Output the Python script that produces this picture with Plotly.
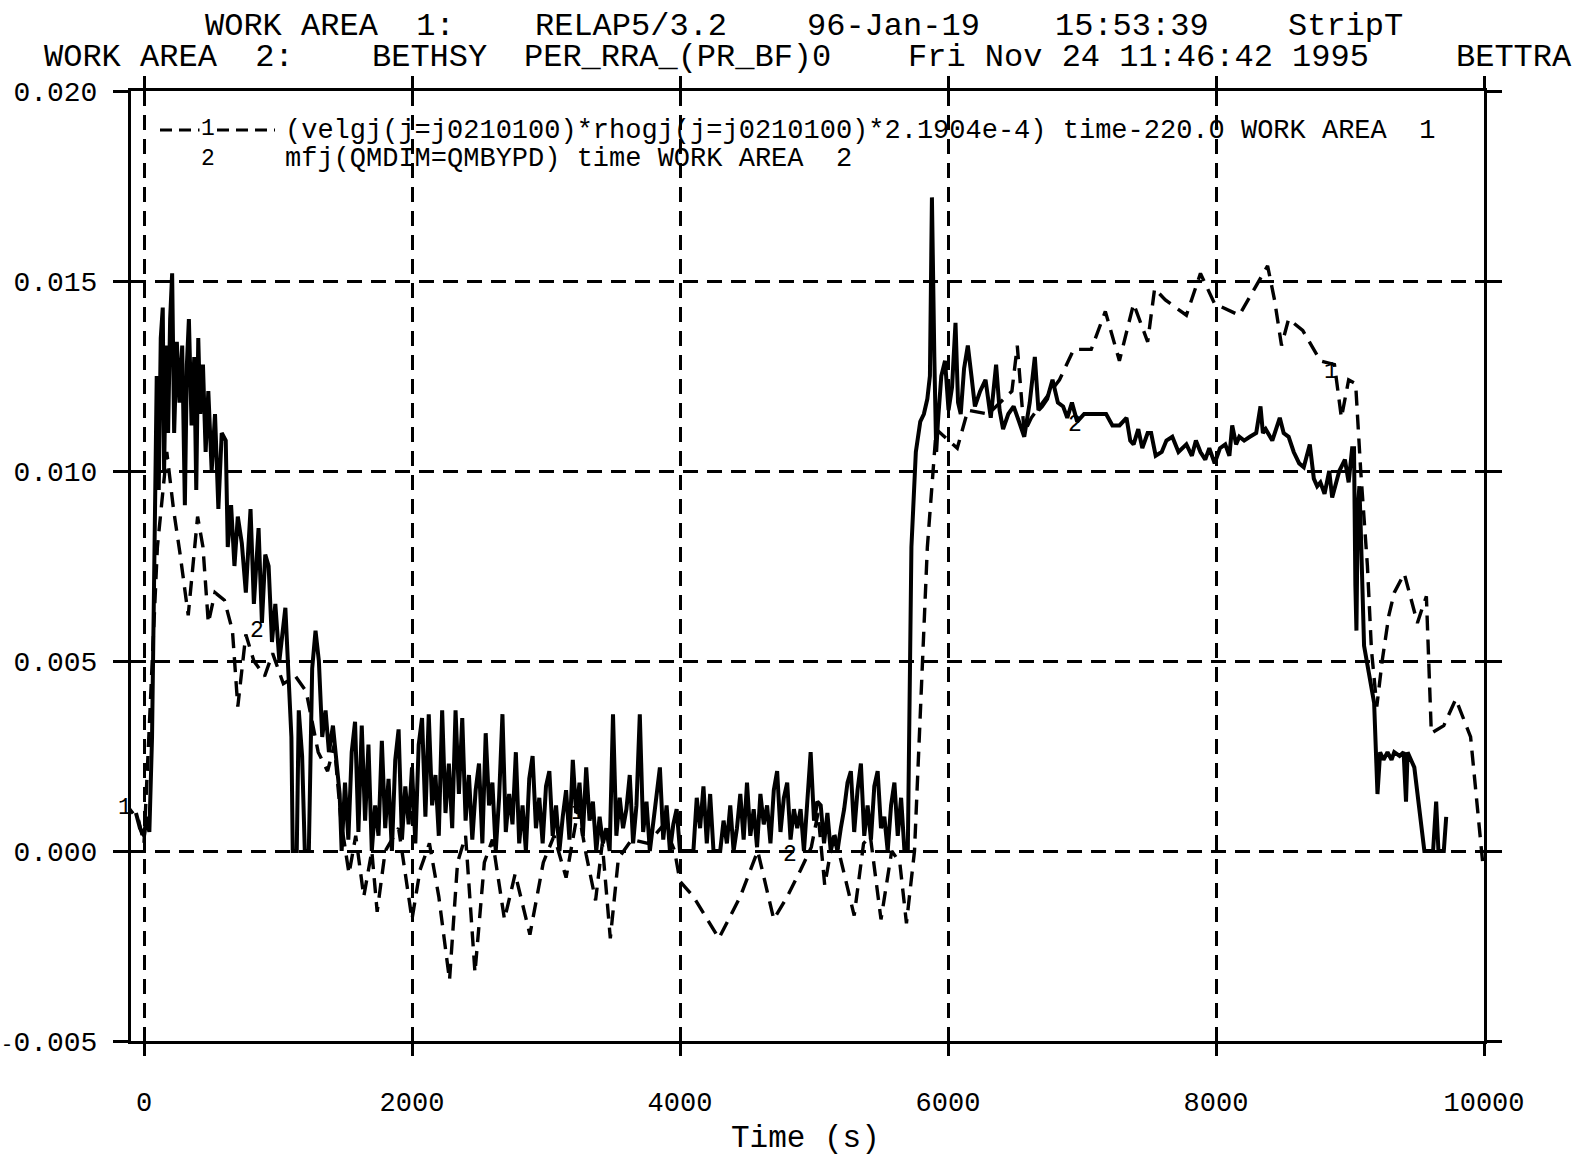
import plotly.graph_objects as go

# ---------------- data ----------------
# Curve 1 (dashed): (velgj*rhogj*2.1904e-4) vs time-220.0, WORK AREA 1
t1 = [-150, -40, 0, 40, 100, 170, 220, 270, 330, 400,
      440, 480, 530, 600, 660, 700, 760, 820, 900, 960,
      1040, 1130, 1210, 1300, 1370, 1420, 1470, 1530, 1580, 1640,
      1700, 1740, 1800, 1900, 2000, 2060, 2130, 2200, 2280, 2340,
      2400, 2470, 2540, 2600, 2690, 2770, 2880, 2980, 3060, 3150,
      3240, 3300, 3370, 3420, 3480, 3540, 3640, 3760, 3880, 3960,
      4000, 4100, 4290, 4450, 4580, 4700, 4800, 4900, 4980, 5030,
      5080, 5150, 5300, 5370, 5420, 5500, 5580, 5640, 5690, 5750,
      5846, 5912, 6069, 6148, 6300, 6477, 6517, 6569, 6622, 6832,
      6938, 7069, 7174, 7279, 7385, 7490, 7542, 7622, 7779, 7884,
      7990, 8174, 8385, 8437, 8489, 8542, 8647, 8779, 8884, 8936,
      8990, 9042, 9080, 9130, 9160, 9200, 9240, 9290, 9330, 9405,
      9460, 9503, 9540, 9570, 9607, 9700, 9790, 9900, 9990]
v1 = [0.0013, 0.0008, 0.0002, 0.0035, 0.0080, 0.0105, 0.0090, 0.0078, 0.0062, 0.0088,
      0.0080, 0.0060, 0.0068, 0.0066, 0.0058, 0.0038, 0.0057, 0.0050, 0.0046, 0.0052,
      0.0044, 0.0046, 0.0042, 0.0026, 0.0021, 0.0028, 0.0008, -0.0006, 0.0004, -0.0012,
      0.0000, -0.0016, 0.0000, 0.0006, -0.0018, -0.0005, 0.0002, -0.0012, -0.0034, -0.0003,
      0.0004, -0.0032, -0.0003, 0.0003, -0.0018, -0.0006, -0.0022, -0.0003, 0.0004, -0.0007,
      0.0011, -0.0001, -0.0013, 0.0002, -0.0023, -0.0002, 0.0003, 0.0002, 0.0007, 0.0000,
      -0.0008, -0.0012, -0.0023, -0.0012, 0.0000, -0.0018, -0.0012, -0.0005, 0.0001, 0.0010,
      -0.0009, 0.0005, -0.0017, 0.0002, 0.0004, -0.0018, 0.0000, -0.0003, -0.0019, 0.0000,
      0.0080, 0.0111, 0.0106, 0.0116, 0.0115, 0.0121, 0.0133, 0.0110, 0.0114, 0.0124,
      0.0132, 0.0132, 0.0142, 0.0129, 0.0144, 0.0134, 0.0148, 0.0145, 0.0141, 0.0152,
      0.0144, 0.0141, 0.0154, 0.0145, 0.0133, 0.0140, 0.0137, 0.0129, 0.0128, 0.0114,
      0.0124, 0.0123, 0.0100, 0.0075, 0.0053, 0.0038, 0.0050, 0.0062, 0.0068, 0.0073,
      0.0066, 0.0060, 0.0064, 0.0067, 0.0031, 0.0033, 0.0040, 0.0030, -0.0003]

# Curve 2 (solid): mfj(QMDIM=QMBYPD), WORK AREA 2 -- early transient
tA = [-60, -30, 0, 20, 40, 60, 75, 95, 110, 125,
      140, 150, 165, 180, 195, 210, 225, 245, 265, 285,
      305, 320, 335, 355, 375, 390, 405, 420, 440, 460,
      480, 505, 530, 555, 580, 610, 625, 650, 675, 700,
      730, 760, 795, 820, 855, 880, 905, 930, 955, 980,
      1010, 1055, 1080, 1100, 1110, 1140, 1155, 1180, 1200, 1230,
      1255, 1280, 1305, 1330, 1355, 1380, 1410, 1440, 1460]
vA = [0.0010, 0.0006, 0.0004, 0.0009, 0.0005, 0.0030, 0.0070, 0.0125, 0.0095, 0.0135,
      0.0143, 0.0100, 0.0133, 0.0110, 0.0140, 0.0152, 0.0110, 0.0134, 0.0118, 0.0133,
      0.0091, 0.0128, 0.0140, 0.0112, 0.0130, 0.0095, 0.0135, 0.0115, 0.0128, 0.0105,
      0.0121, 0.0100, 0.0115, 0.0090, 0.0110, 0.0108, 0.0080, 0.0091, 0.0075, 0.0088,
      0.0081, 0.0068, 0.0090, 0.0065, 0.0085, 0.0060, 0.0078, 0.0075, 0.0055, 0.0065,
      0.0050, 0.0064, 0.0045, 0.0030, 0.0, 0.0, 0.0037, 0.0025, 0.0, 0.0,
      0.0048, 0.0058, 0.0050, 0.0030, 0.0037, 0.0026, 0.0033, 0.0022, 0.0015]

# Curve 2 -- oscillating low-flow period, sampled every 25 s from 1475 s
tB = list(range(1475, 5700, 25))
vB = [0, .0018, .0003, .0026, .0034, .0005, .0033, .0008, .0028, 0, .0012, .0004,
      .0029, .0006, .0019, 0, .0024, .0032, .0003, .0017, .0007, .0022, .0002, .0028,
      .0035, .0009, .0036, .0012, .0020, .0004, .0037, .0010, .0023, .0006, .0037, .0015,
      .0035, .0008, .0020, .0003, .0016, .0023, .0002, .0031, .0012, .0018, 0, .0014,
      .0036, .0005, .0015, .0007, .0026, .0002, .0012, 0, .0019, .0025, .0006, .0014,
      .0002, .0017, .0021, .0004, .0012, 0, .0009, .0016, .0003, .0024, .0010, .0018,
      .0004, .0022, .0008, .0013, 0, .0009, .0002, .0006, 0, .0036, .0004, .0014,
      .0006, .0011, .0020, .0002, .0012, .0036, .0005, .0013, 0, .0008, .0014, .0022,
      .0003, .0012, 0, .0007, .0011, 0, 0, 0, 0, 0, .0014, .0006,
      .0017, .0002, .0015, 0, 0, 0, .0008, .0002, .0012, 0, .0006, .0015,
      .0003, .0018, .0004, .0011, .0001, .0015, .0007, .0012, .0002, .0016, .0021, .0005,
      .0014, .0018, .0003, .0011, .0006, .0011, 0, .0014, .0026, .0008, .0013, .0012,
      .0002, .0010, 0, .0004, 0, .0006, .0011, .0018, .0021, .0005, .0016, .0023,
      .0004, .0012, .0003, .0017, .0021, .0006, .0009, 0, .0012, .0018, .0004, .0014,
      0]

# Curve 2 -- second rise and final decline
tC = [5700, 5715, 5727, 5760, 5793, 5820, 5846, 5865, 5880, 5898,
      5912, 5925, 5950, 5978, 6004, 6030, 6056, 6075, 6095, 6120,
      6148, 6175, 6201, 6240, 6280, 6319, 6359, 6385, 6411, 6450,
      6490, 6530, 6569, 6610, 6648, 6675, 6701, 6740, 6780, 6820,
      6859, 6890, 6925, 6964, 7016, 7100, 7180, 7227, 7280, 7332,
      7360, 7385, 7420, 7450, 7490, 7516, 7550, 7595, 7630, 7674,
      7720, 7779, 7820, 7850, 7884, 7920, 7950, 7990, 8030, 8069,
      8100, 8121, 8150, 8174, 8210, 8253, 8300, 8332, 8350, 8371,
      8420, 8476, 8505, 8542, 8580, 8621, 8655, 8700, 8730, 8755,
      8779, 8810, 8845, 8867, 8884, 8920, 8962, 8990, 9016, 9030,
      9040, 9048, 9058, 9070, 9080, 9105, 9140, 9180, 9205, 9225,
      9250, 9280, 9310, 9330, 9370, 9400, 9418, 9430, 9480, 9555,
      9620, 9643, 9660, 9700, 9718]
vC = [0.0, 0.0055, 0.0080, 0.0105, 0.0113, 0.0115, 0.0119, 0.0125, 0.0172, 0.0130,
      0.0105, 0.0113, 0.0125, 0.0129, 0.0116, 0.0122, 0.0139, 0.0118, 0.0115, 0.0127,
      0.0133, 0.0125, 0.0117, 0.0121, 0.0124, 0.0114, 0.0128, 0.0116, 0.0111, 0.0115,
      0.0117, 0.0113, 0.0109, 0.0118, 0.0130, 0.0116, 0.0117, 0.0119, 0.0124, 0.0118,
      0.0117, 0.0114, 0.0118, 0.0113, 0.0115, 0.0115, 0.0115, 0.0112, 0.0112, 0.0114,
      0.0108, 0.0107, 0.0111, 0.0106, 0.0110, 0.0110, 0.0104, 0.0105, 0.0108, 0.0109,
      0.0105, 0.0107, 0.0104, 0.0108, 0.0105, 0.0103, 0.0106, 0.0102, 0.0106, 0.0107,
      0.0104, 0.0112, 0.0107, 0.0109, 0.0108, 0.0109, 0.0110, 0.0117, 0.0110, 0.0111,
      0.0108, 0.0114, 0.0110, 0.0109, 0.0105, 0.0102, 0.0101, 0.0107, 0.0098, 0.0096,
      0.0097, 0.0094, 0.0100, 0.0093, 0.0095, 0.0100, 0.0103, 0.0097, 0.0106, 0.0106,
      0.0070, 0.0058, 0.0090, 0.0096, 0.0085, 0.0054, 0.0047, 0.0039, 0.0015, 0.0026,
      0.0024, 0.0026, 0.0024, 0.0026, 0.0025, 0.0026, 0.0013, 0.0026, 0.0022, 0.0,
      0.0, 0.0013, 0.0, 0.0, 0.0009]

# curve identification numbers drawn along the curves (inside the axes)
lab1_t = [3240, 8860]
lab1_v = [0.0010, 0.0126]
lab2_t = [840, 4820, 6950]
lab2_v = [0.0058, -0.0001, 0.0112]

x_ticks = [0, 2000, 4000, 6000, 8000, 10000]
x_ticktext = ["0", "2000", "4000", "6000", "8000", "10000"]
y_ticks = [-0.005, 0.0, 0.005, 0.010, 0.015, 0.020]
y_ticktext = ["<span style='font-size:21px'>-</span>0.005", "0.000", "0.005",
              "0.010", "0.015", "0.020"]

title1 = [("WORK AREA  1:", 203), ("RELAP5/3.2", 533), ("96-Jan-19", 805),
          ("15:53:39", 1053), ("StripT", 1286)]
title2 = [("WORK AREA  2:", 42), ("BETHSY", 370), ("PER_RRA_(PR_BF)0", 522),
          ("Fri Nov 24 11:46:42 1995", 906), ("BETTRA", 1454)]
legend1 = "(velgj(j=j0210100)*rhogj(j=j0210100)*2.1904e-4) time-220.0 WORK AREA  1"
legend2 = "mfj(QMDIM=QMBYPD) time WORK AREA  2"

# ---------------- figure ----------------
FONT = "Liberation Mono"
W, H = 1575, 1158
L, R, T, B = 131, 91, 91, 117
PW = W - L - R
PH = H - T - B


def pxx(x):
    return (x - L) / PW


def pxy(y):
    return (T + PH - y) / PH


def nb(s):
    return s.replace(" ", "\u00a0")


t2 = tA + tB[:len(vB)] + tC
v2 = vA + vB[:len(tB)] + vC

fig = go.Figure()
fig.add_trace(go.Scatter(x=t1, y=v1, mode="lines",
                         line=dict(color="black", width=3.4, dash="15px,9px"),
                         showlegend=False, hoverinfo="skip"))
fig.add_trace(go.Scatter(x=t2, y=v2, mode="lines",
                         line=dict(color="black", width=4),
                         showlegend=False, hoverinfo="skip"))

ann = []
for txt, x0 in title1:
    ann.append(dict(text=nb(txt), x=pxx(x0), y=pxy(26), xref="paper", yref="paper",
                    xanchor="left", yanchor="middle", showarrow=False,
                    font=dict(family=FONT, size=32, color="black")))
for txt, x0 in title2:
    ann.append(dict(text=nb(txt), x=pxx(x0), y=pxy(58), xref="paper", yref="paper",
                    xanchor="left", yanchor="middle", showarrow=False,
                    font=dict(family=FONT, size=32, color="black")))
ann.append(dict(text=nb(legend1), x=pxx(283), y=pxy(131), xref="paper", yref="paper",
                xanchor="left", yanchor="middle", showarrow=False,
                font=dict(family=FONT, size=27, color="black")))
ann.append(dict(text=nb(legend2), x=pxx(283), y=pxy(159), xref="paper", yref="paper",
                xanchor="left", yanchor="middle", showarrow=False,
                font=dict(family=FONT, size=27, color="black")))
for lab, yy in (("1", 129), ("2", 159)):
    ann.append(dict(text=lab, x=pxx(208), y=pxy(yy), xref="paper", yref="paper",
                    xanchor="center", yanchor="middle", showarrow=False,
                    bgcolor="white" if lab == "1" else None,
                    font=dict(family=FONT, size=23, color="black")))
# curve-1 start label, just left of the frame
ann.append(dict(text="1", x=pxx(125), y=pxy(808), xref="paper", yref="paper",
                xanchor="center", yanchor="middle", showarrow=False,
                font=dict(family=FONT, size=23, color="black")))
for tt, vv in zip(lab1_t, lab1_v):
    ann.append(dict(text="1", x=tt, y=vv, xref="x", yref="y", showarrow=False,
                    font=dict(family=FONT, size=23, color="black")))
for tt, vv in zip(lab2_t, lab2_v):
    ann.append(dict(text="2", x=tt, y=vv, xref="x", yref="y", showarrow=False,
                    font=dict(family=FONT, size=23, color="black")))
ann.append(dict(text=nb("Time (s)"), x=pxx(805), y=pxy(1138), xref="paper", yref="paper",
                xanchor="center", yanchor="middle", showarrow=False,
                font=dict(family=FONT, size=31, color="black")))

shapes = [dict(type="line", xref="paper", yref="paper",
               x0=pxx(160), x1=pxx(275), y0=pxy(130), y1=pxy(130),
               line=dict(color="black", width=3, dash="12px,7px"))]

axis_common = dict(showline=True, linewidth=3, linecolor="black", mirror="ticks",
                   ticks="outside", tickwidth=3, tickcolor="black",
                   showgrid=True, gridcolor="black", gridwidth=3.4, griddash="15px,9px",
                   zeroline=False, fixedrange=True, automargin=False)

fig.update_layout(
    width=W, height=H,
    margin=dict(l=L, r=R, t=T, b=B, pad=0, autoexpand=False),
    paper_bgcolor="white", plot_bgcolor="white",
    showlegend=False,
    xaxis=dict(range=[-97, 10000], tickvals=x_ticks, ticktext=x_ticktext,
               ticklen=12, ticklabelstandoff=23,
               tickfont=dict(family=FONT, size=27, color="black"), **axis_common),
    yaxis=dict(range=[-0.005, 0.020], tickvals=y_ticks, ticktext=y_ticktext,
               ticklen=15, ticklabelstandoff=10,
               tickfont=dict(family=FONT, size=28, color="black"), **axis_common),
    annotations=ann,
    shapes=shapes,
)

fig.write_html("out.html", include_plotlyjs=True, config={"displayModeBar": False})
